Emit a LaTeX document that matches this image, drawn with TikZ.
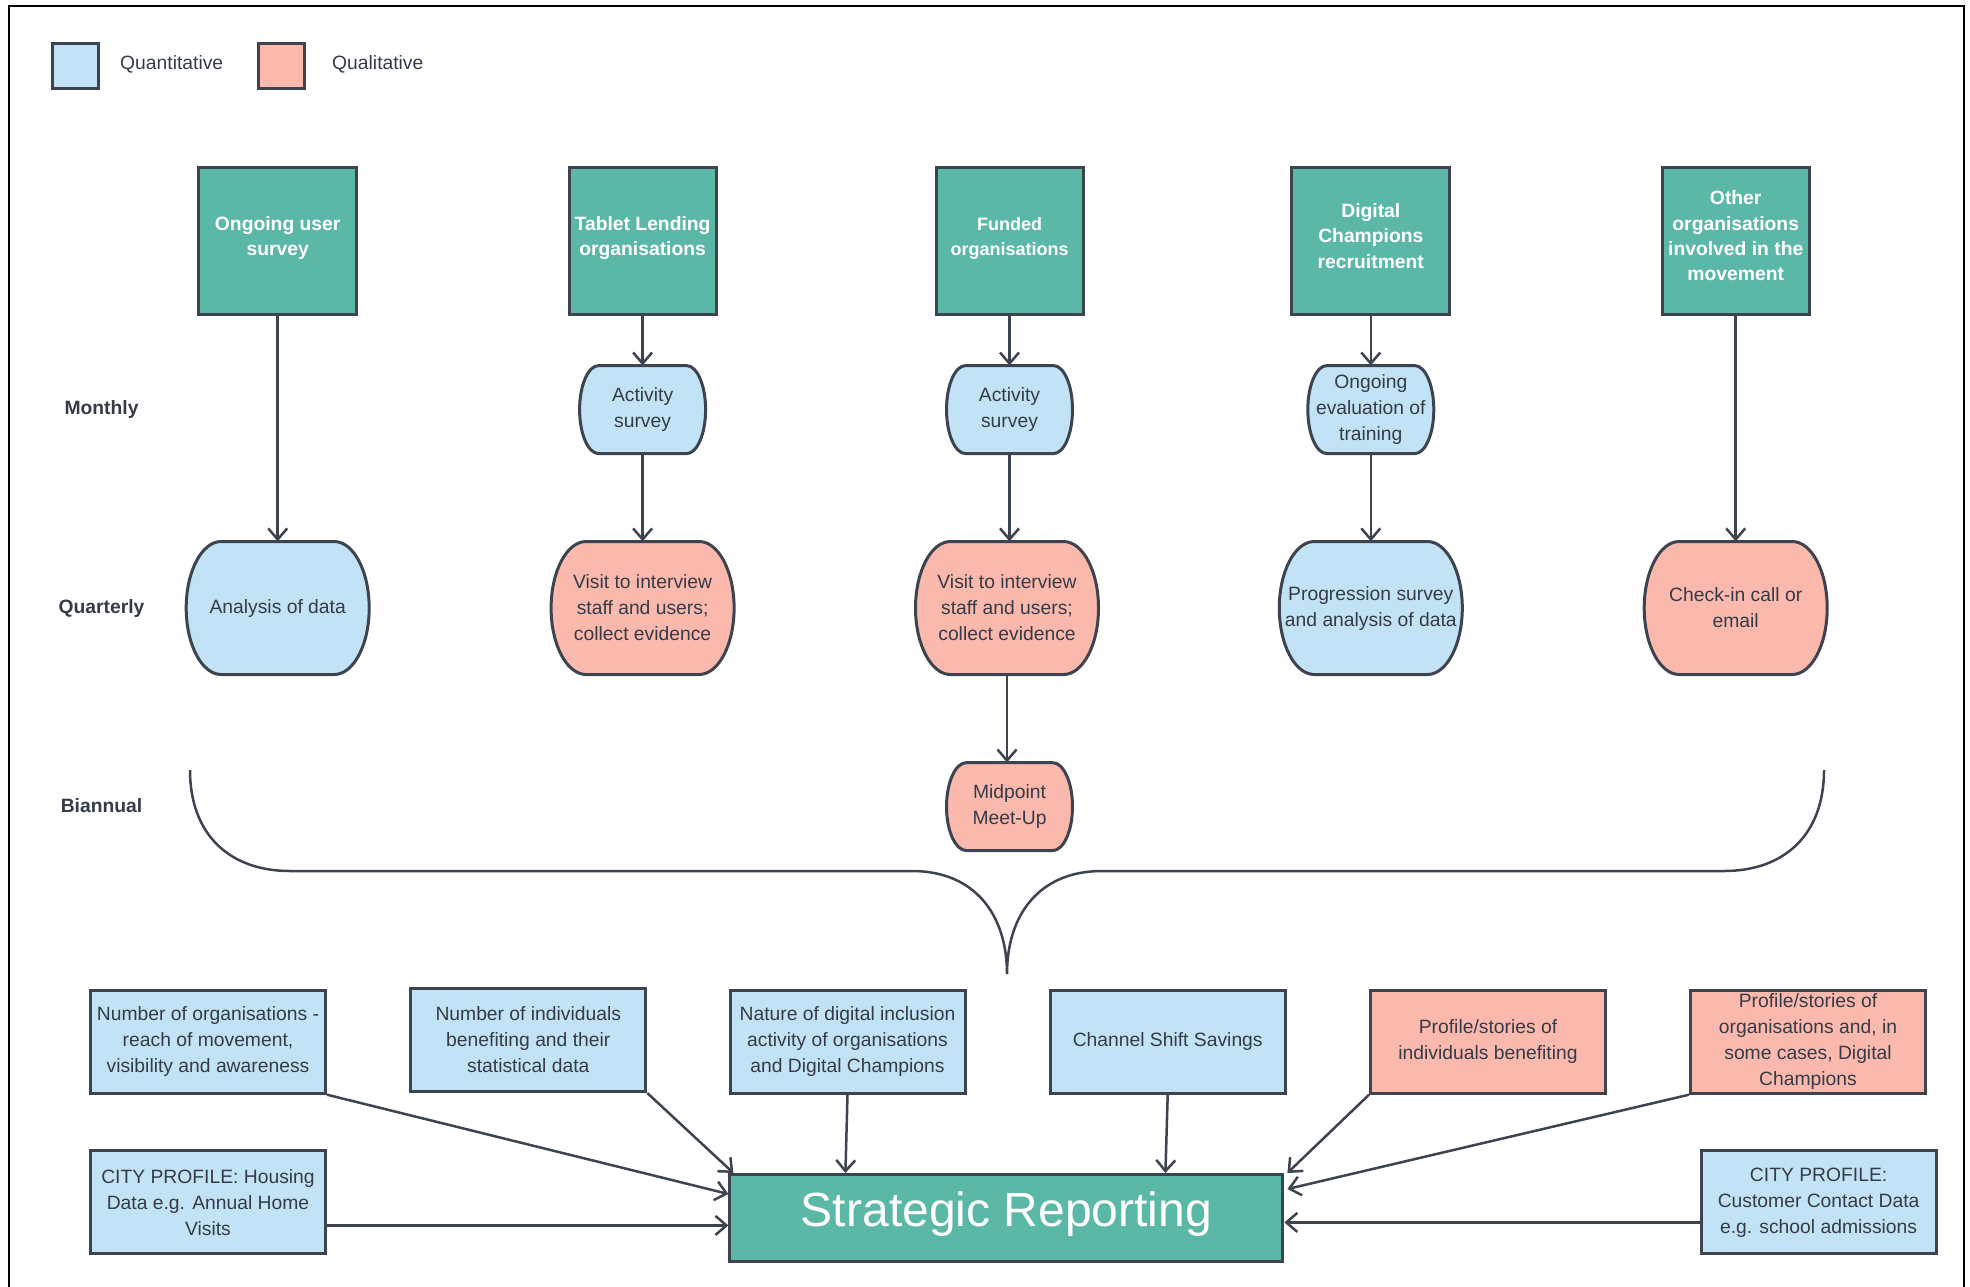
\documentclass[tikz,border=0pt]{standalone}
\usepackage{fontspec}
\setmainfont{Liberation Sans}
\usetikzlibrary{arrows.meta,calc}
\definecolor{tealfill}{HTML}{5CB8A6}
\definecolor{qblue}{HTML}{C2E3F5}
\definecolor{qpink}{HTML}{FBB8AD}
\definecolor{edge}{HTML}{3D4450}
\definecolor{txt}{HTML}{353B47}
\newcommand\lift{\\[-16pt]\mbox{}}
\tikzset{
  basefont/.style={font=\fontsize{19.3}{26}\selectfont},
  topbox/.style={rectangle, draw=edge, fill=tealfill, line width=3, text=white,
    font=\bfseries\fontsize{19.3}{25.5}\selectfont, align=center, inner sep=2},
  stadline/.style={draw=edge, line width=3},
  stadtext/.style={rectangle, basefont, text=txt, align=center, inner sep=1},
  datarect/.style={rectangle, draw=edge, line width=3, basefont, text=txt, align=center,
    minimum width=235, minimum height=103, inner sep=1},
  rowlabel/.style={font=\bfseries\fontsize{19.3}{24}\selectfont, text=txt},
  legendtext/.style={basefont, text=txt, anchor=west, inner sep=0},
  legendbox/.style={rectangle, draw=edge, line width=3, minimum width=46, minimum height=45, inner sep=0},
  arr/.style={draw=edge, line width=2.5, -{Straight Barb[length=11pt,width=19pt]}},
  bracepath/.style={draw=edge, line width=2.5},
}
% stadium-shaped node: name, cx, cy, w, h, rx, fill, text
\newcommand\stadnode[8]{%
  \pgfmathsetmacro\sxl{#2-#4/2+#6}%
  \pgfmathsetmacro\sxr{#2+#4/2-#6}%
  \pgfmathsetmacro\syt{#3-#5/2}%
  \pgfmathsetmacro\syb{#3+#5/2}%
  \pgfmathsetmacro\sry{#5/2}%
  \draw[stadline, fill=#7] (\sxl,\syt) -- (\sxr,\syt)
     .. controls (\sxr+0.5523*#6,\syt) and (\sxr+#6,#3-0.5523*\sry) .. (\sxr+#6,#3)
     .. controls (\sxr+#6,#3+0.5523*\sry) and (\sxr+0.5523*#6,\syb) .. (\sxr,\syb)
     -- (\sxl,\syb)
     .. controls (\sxl-0.5523*#6,\syb) and (\sxl-#6,#3+0.5523*\sry) .. (\sxl-#6,#3)
     .. controls (\sxl-#6,#3-0.5523*\sry) and (\sxl-0.5523*#6,\syt) .. (\sxl,\syt) -- cycle;
  \node[stadtext, minimum width=#4, minimum height=#5] (#1) at (#2,#3) {#8};
}
\begin{document}
\begin{tikzpicture}[x=1pt,y=-1pt]
\useasboundingbox (0,0) rectangle (1970,1286);
\fill[white] (0,0) rectangle (1970,1286);
% frame
\draw[line width=2.5, black] (9,1290) -- (9,6) -- (1964,6) -- (1964,1290);

% legend
\node[legendbox, fill=qblue] (lq) at (75,65.5) {};
\node[legendtext] (lqt) at (120,64) {Quantitative};
\node[legendbox, fill=qpink] (ll) at (281.5,65.5) {};
\node[legendtext] (llt) at (332,64) {Qualitative};

% row labels
\node[rowlabel] (lmonth) at (101.5,410) {Monthly};
\node[rowlabel] (lquart) at (101.5,608.5) {Quarterly};
\node[rowlabel] (lbian) at (101.5,806) {Biannual};

% top boxes
\node[topbox, minimum width=158, minimum height=147] (b1) at (277.7,240.5) {Ongoing user\\survey\lift};
\node[topbox, minimum width=147, minimum height=147] (b2) at (642.6,240.5) {Tablet Lending\\organisations\lift};
\node[topbox, minimum width=147, minimum height=147, font=\bfseries\fontsize{18}{25}\selectfont] (b3) at (1009.5,240.5) {Funded\\organisations\lift};
\node[topbox, minimum width=158, minimum height=147] (b4) at (1370.8,240.5) {Digital\\Champions\\recruitment\lift};
\node[topbox, minimum width=147, minimum height=147] (b5) at (1735.7,240.5) {Other\\organisations\\involved in the\\movement\lift};

% monthly
\stadnode{a2}{642.6}{409.6}{126}{88}{19}{qblue}{Activity\\survey}
\stadnode{a3}{1009.5}{409.6}{126}{88}{19}{qblue}{Activity\\survey}
\stadnode{a4}{1370.8}{409.6}{126}{88}{19}{qblue}{Ongoing\\evaluation of\\training}

% quarterly
\stadnode{q1}{277.7}{608}{183}{133}{35}{qblue}{Analysis of data}
\stadnode{q2}{642.6}{608}{183}{133}{35}{qpink}{Visit to interview\\staff and users;\\collect evidence}
\stadnode{q3}{1007}{608}{183}{133}{35}{qpink}{Visit to interview\\staff and users;\\collect evidence}
\stadnode{q4}{1370.8}{608}{183}{133}{35}{qblue}{Progression survey\\and analysis of data}
\stadnode{q5}{1735.7}{608}{183}{133}{35}{qpink}{Check-in call or\\email}

% biannual
\stadnode{mid}{1009.5}{806.6}{126}{88}{20}{qpink}{Midpoint\\Meet-Up}

% vertical arrows
\draw[arr] (b1.south) -- (q1.north);
\draw[arr] (b2.south) -- (a2.north);
\draw[arr] (a2.south) -- (q2.north);
\draw[arr] (b3.south) -- (a3.north);
\draw[arr] (a3.south) -- (a3.south |- q3.north);
\draw[arr] (q3.south) -- (q3.south |- mid.north);
\draw[arr] (b4.south) -- (a4.north);
\draw[arr] (a4.south) -- (q4.north);
\draw[arr] (b5.south) -- (q5.north);

% brace
\coordinate (btip) at (1007,974);
\draw[bracepath] (190,770) .. controls (190,835) and (230,871) .. (290,871)
  -- (912,871) .. controls (975,871) and (1007,915) .. (btip)
  .. controls (1007,915) and (1039,871) .. (1102,871)
  -- (1724,871) .. controls (1784,871) and (1824,835) .. (1824,770);

% bottom data boxes
\node[datarect, fill=qblue] (r1) at (208,1041.7) {Number of organisations -\\reach of movement,\\visibility and awareness};
\node[datarect, fill=qblue] (r2) at (528.3,1040) {Number of individuals\\benefiting and their\\statistical data};
\node[datarect, fill=qblue] (r3) at (847.5,1041.7) {Nature of digital inclusion\\activity of organisations\\and Digital Champions};
\node[datarect, fill=qblue] (r4) at (1167.7,1041.7) {Channel Shift Savings};
\node[datarect, fill=qpink] (r5) at (1488,1041.7) {Profile/stories of\\individuals benefiting};
\node[datarect, fill=qpink] (r6) at (1808,1041.7) {Profile/stories of\\organisations and, in\\some cases, Digital\\Champions};
\node[datarect, fill=qblue] (c1) at (208,1202.4) {CITY PROFILE: Housing\\Data e.g. Annual Home\\Visits};
\node[datarect, fill=qblue] (c2) at (1818.6,1202.4) {CITY PROFILE:\\Customer Contact Data\\e.g. school admissions};

% strategic reporting
\node[rectangle, draw=edge, fill=tealfill, line width=3, text=white,
  font=\fontsize{48}{56}\selectfont, minimum width=553, minimum height=87, inner sep=0,
  text height=35, text depth=18]
  (sr) at (1006.4,1218) {Strategic Reporting};

% arrows into strategic reporting
\draw[arr] (r1.south east) -- ($(sr.north west)+(0,21)$);
\draw[arr] (r2.south east) -- ($(sr.north west)+(5,0)$);
\draw[arr] (r3.south) -- ($(sr.north west)+(117,0)$);
\draw[arr] (r4.south) -- ($(sr.north west)+(437,0)$);
\draw[arr] (r5.south west) -- ($(sr.north east)+(3,0)$);
\draw[arr] (r6.south west) -- ($(sr.north east)+(3,16)$);
\draw[arr] ($(c1.east)+(0,23)$) -- ($(sr.west |- c1.east)+(0,23)$);
\draw[arr] ($(c2.west)+(0,20)$) -- ($(sr.east |- c2.west)+(0,20)$);
\end{tikzpicture}
\end{document}
